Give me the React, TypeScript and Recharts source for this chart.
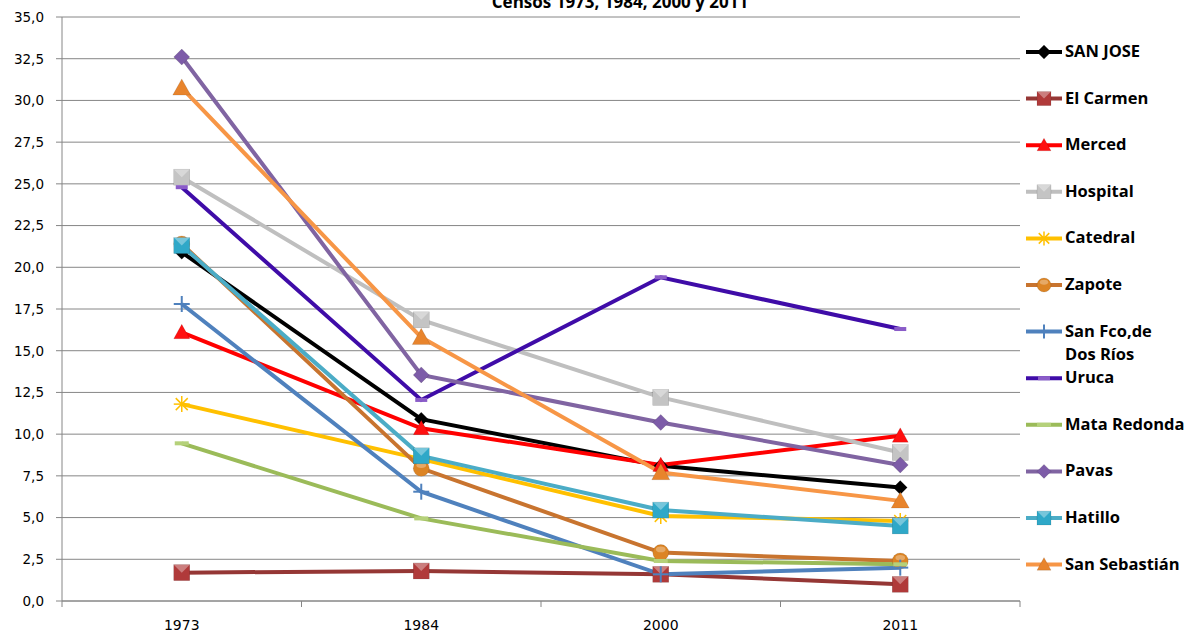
import React from 'react';
import { LineChart, Line, XAxis, YAxis, CartesianGrid } from 'recharts';

// Census years and y ticks
const years = ['1973', '1984', '2000', '2011'];
const yTicks = [0, 2.5, 5, 7.5, 10, 12.5, 15, 17.5, 20, 22.5, 25, 27.5, 30, 32.5, 35];

// Values per district
const sanJose = [20.9, 10.9, 8.1, 6.8];
const elCarmen = [1.7, 1.8, 1.6, 1.0];
const merced = [16.1, 10.35, 8.15, 9.9];
const hospital = [25.4, 16.85, 12.2, 8.9];
const catedral = [11.8, 8.5, 5.1, 4.8];
const zapote = [21.4, 7.95, 2.9, 2.4];
const sanFco = [17.8, 6.55, 1.6, 2.0];
const uruca = [24.8, 12.05, 19.4, 16.3];
const mataRedonda = [9.45, 4.95, 2.4, 2.2];
const pavas = [32.6, 13.55, 10.7, 8.15];
const hatillo = [21.3, 8.7, 5.45, 4.5];
const sanSebastian = [30.75, 15.8, 7.7, 6.0];

type Shape = 'diamond' | 'square' | 'triangle' | 'star' | 'circle' | 'plus' | 'dash';

interface SeriesDef {
  key: string;
  name: string[];
  values: number[];
  color: string;
  marker: string;
  shape: Shape;
  size: number;
}

const series: SeriesDef[] = [
  { key: 'sanJose', name: ['SAN JOSE'], values: sanJose, color: '#000000', marker: '#000000', shape: 'diamond', size: 7 },
  { key: 'elCarmen', name: ['El Carmen'], values: elCarmen, color: '#953735', marker: '#b03a3a', shape: 'square', size: 8 },
  { key: 'merced', name: ['Merced'], values: merced, color: '#ff0000', marker: '#ff1010', shape: 'triangle', size: 8 },
  { key: 'hospital', name: ['Hospital'], values: hospital, color: '#bfbfbf', marker: '#c4c4c4', shape: 'square', size: 8 },
  { key: 'catedral', name: ['Catedral'], values: catedral, color: '#ffc000', marker: '#ffc000', shape: 'star', size: 8 },
  { key: 'zapote', name: ['Zapote'], values: zapote, color: '#c8742f', marker: '#dc8424', shape: 'circle', size: 8 },
  { key: 'sanFco', name: ['San Fco,de', 'Dos Ríos'], values: sanFco, color: '#4f81bd', marker: '#4f81bd', shape: 'plus', size: 8 },
  { key: 'uruca', name: ['Uruca'], values: uruca, color: '#3f0ca8', marker: '#8a5cc8', shape: 'dash', size: 6 },
  { key: 'mataRedonda', name: ['Mata Redonda'], values: mataRedonda, color: '#9bbb59', marker: '#b5d17a', shape: 'dash', size: 7 },
  { key: 'pavas', name: ['Pavas'], values: pavas, color: '#8064a2', marker: '#7d5ca8', shape: 'diamond', size: 8 },
  { key: 'hatillo', name: ['Hatillo'], values: hatillo, color: '#4bacc6', marker: '#2fa8c8', shape: 'square', size: 8 },
  { key: 'sanSebastian', name: ['San Sebastián'], values: sanSebastian, color: '#f79646', marker: '#e8842c', shape: 'triangle', size: 9 },
];

const data = years.map((year, i) => {
  const row: Record<string, string | number> = { year };
  series.forEach((s) => { row[s.key] = s.values[i]; });
  return row;
});

const fmt = (v: number) => v.toFixed(1).replace('.', ',');

function Marker({ cx, cy, s }: { cx: number; cy: number; s: SeriesDef }) {
  const r = s.size;
  const c = s.marker;
  switch (s.shape) {
    case 'diamond':
      return <polygon points={`${cx},${cy - r} ${cx + r},${cy} ${cx},${cy + r} ${cx - r},${cy}`} fill={c} stroke="rgba(0,0,0,0.25)" strokeWidth={0.5} />;
    case 'square':
      return (
        <g>
          <rect x={cx - r} y={cy - r} width={2 * r} height={2 * r} fill={c} stroke="rgba(0,0,0,0.2)" strokeWidth={0.5} />
          <polygon points={`${cx - r},${cy - r} ${cx + r},${cy - r} ${cx},${cy}`} fill="rgba(255,255,255,0.35)" />
        </g>
      );
    case 'triangle':
      return <polygon points={`${cx},${cy - r} ${cx + r},${cy + r * 0.8} ${cx - r},${cy + r * 0.8}`} fill={c} stroke="rgba(0,0,0,0.2)" strokeWidth={0.5} />;
    case 'circle':
      return (
        <g>
          <circle cx={cx} cy={cy} r={r} fill={c} stroke="rgba(0,0,0,0.2)" strokeWidth={0.5} />
          <ellipse cx={cx} cy={cy - r * 0.4} rx={r * 0.6} ry={r * 0.35} fill="rgba(255,255,255,0.3)" />
        </g>
      );
    case 'star':
      return (
        <g stroke={c} strokeWidth={1.5}>
          <line x1={cx - r} y1={cy} x2={cx + r} y2={cy} />
          <line x1={cx} y1={cy - r} x2={cx} y2={cy + r} />
          <line x1={cx - r * 0.75} y1={cy - r * 0.75} x2={cx + r * 0.75} y2={cy + r * 0.75} />
          <line x1={cx - r * 0.75} y1={cy + r * 0.75} x2={cx + r * 0.75} y2={cy - r * 0.75} />
        </g>
      );
    case 'plus':
      return (
        <g stroke={c} strokeWidth={2}>
          <line x1={cx - r} y1={cy} x2={cx + r} y2={cy} />
          <line x1={cx} y1={cy - r} x2={cx} y2={cy + r} />
        </g>
      );
    case 'dash':
    default:
      return <rect x={cx - r} y={cy - 2} width={2 * r} height={4} fill={c} />;
  }
}

const XTick = (props: any) => {
  const { x, y, payload, width, visibleTicksCount, index } = props;
  const half = width / (2 * visibleTicksCount);
  const axisY = y - 8;
  return (
    <g>
      <line x1={x - half} y1={axisY} x2={x - half} y2={axisY + 6} stroke="#868686" />
      {index === visibleTicksCount - 1 && (
        <line x1={x + half} y1={axisY} x2={x + half} y2={axisY + 6} stroke="#868686" />
      )}
      <text x={x} y={axisY + 29} textAnchor="middle" fontSize={14} fill="#000" fontFamily="DejaVu Sans">
        {payload.value}
      </text>
    </g>
  );
};

function LegendPanel() {
  return (
    <svg width={180} height={635} style={{ position: 'absolute', left: 1020, top: 0 }}>
      {series.map((s, i) => {
        const y = 52 + i * 46.6;
        return (
          <g key={s.key}>
            <line x1={6} y1={y} x2={42} y2={y} stroke={s.color} strokeWidth={4} />
            <Marker cx={24} cy={y} s={{ ...s, size: Math.min(s.size, 7) }} />
            {s.name.map((line, j) => (
              <text key={j} x={45} y={y + 5 + j * 23} fontSize={16.5} fontWeight="bold" fontFamily="Open Sans" fill="#000">
                {line}
              </text>
            ))}
          </g>
        );
      })}
    </svg>
  );
}

export default function App() {
  return (
    <div style={{ position: 'absolute', left: 0, top: 0, width: 1200, height: 635, background: '#fff', overflow: 'hidden' }}>
      <LineChart width={1200} height={635} data={data} margin={{ top: 17, right: 180, left: 0, bottom: 0 }}>
        <CartesianGrid vertical={false} stroke="#868686" />
        <XAxis
          dataKey="year"
          scale="band"
          height={34}
          tickLine={false}
          stroke="#868686"
          tick={<XTick />}
          interval={0}
        />
        <YAxis
          width={62}
          domain={[0, 35]}
          ticks={yTicks}
          interval={0}
          tickFormatter={fmt}
          stroke="#868686"
          tickSize={6}
          tickMargin={12}
          tick={{ fill: '#000', fontSize: 13.5, fontFamily: 'DejaVu Sans' }}
        />
        {series.map((s) => (
          <Line
            key={s.key}
            dataKey={s.key}
            stroke={s.color}
            strokeWidth={4}
            isAnimationActive={false}
            activeDot={false}
            dot={(p: any) => <Marker key={`${s.key}-${p.index}`} cx={p.cx} cy={p.cy} s={s} />}
          />
        ))}
      </LineChart>
      <svg width={1200} height={20} style={{ position: 'absolute', left: 0, top: 0 }}>
        <text x={620} y={8} textAnchor="middle" fontSize={17} fontWeight="bold" fontFamily="Open Sans" fill="#000">
          Censos 1973, 1984, 2000 y 2011
        </text>
      </svg>
      <LegendPanel />
    </div>
  );
}
